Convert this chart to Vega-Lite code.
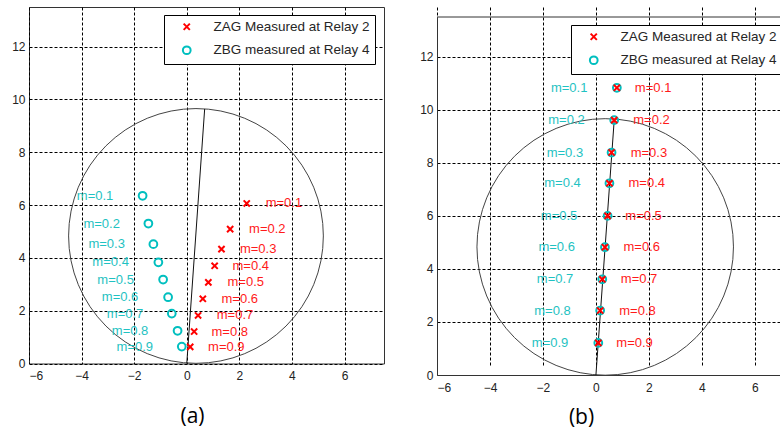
{
  "$schema": "https://vega.github.io/schema/vega-lite/v6.json",
  "background": "white",
  "padding": {"left": 11, "top": 6, "right": 0, "bottom": 2},
  "spacing": 34,
  "datasets": {
    "circle": [{"x": 0.35, "y": 4.83}],
    "lineA": [{"x": 0, "y": 0}, {"x": 0.68, "y": 9.64}],
    "lineB": [{"x": 0, "y": 0}, {"x": 0.69, "y": 9.61}],
    "pointsA": [
      {"series": "ZBG measured at Relay 4", "m": 0.1, "x": -1.68, "y": 6.35},
      {"series": "ZBG measured at Relay 4", "m": 0.2, "x": -1.46, "y": 5.30},
      {"series": "ZBG measured at Relay 4", "m": 0.3, "x": -1.27, "y": 4.52},
      {"series": "ZBG measured at Relay 4", "m": 0.4, "x": -1.08, "y": 3.83},
      {"series": "ZBG measured at Relay 4", "m": 0.5, "x": -0.90, "y": 3.18},
      {"series": "ZBG measured at Relay 4", "m": 0.6, "x": -0.71, "y": 2.51},
      {"series": "ZBG measured at Relay 4", "m": 0.7, "x": -0.57, "y": 1.89},
      {"series": "ZBG measured at Relay 4", "m": 0.8, "x": -0.35, "y": 1.24},
      {"series": "ZBG measured at Relay 4", "m": 0.9, "x": -0.19, "y": 0.64},
      {"series": "ZAG Measured at Relay 2", "m": 0.1, "x": 2.28, "y": 6.06},
      {"series": "ZAG Measured at Relay 2", "m": 0.2, "x": 1.65, "y": 5.09},
      {"series": "ZAG Measured at Relay 2", "m": 0.3, "x": 1.32, "y": 4.33},
      {"series": "ZAG Measured at Relay 2", "m": 0.4, "x": 1.06, "y": 3.70},
      {"series": "ZAG Measured at Relay 2", "m": 0.5, "x": 0.82, "y": 3.07},
      {"series": "ZAG Measured at Relay 2", "m": 0.6, "x": 0.61, "y": 2.45},
      {"series": "ZAG Measured at Relay 2", "m": 0.7, "x": 0.43, "y": 1.82},
      {"series": "ZAG Measured at Relay 2", "m": 0.8, "x": 0.28, "y": 1.21},
      {"series": "ZAG Measured at Relay 2", "m": 0.9, "x": 0.13, "y": 0.63}
    ],
    "labelsA": [
      {"series": "ZBG", "label": "m=0.1", "x": -4.18, "y": 6.35},
      {"series": "ZBG", "label": "m=0.2", "x": -3.93, "y": 5.30},
      {"series": "ZBG", "label": "m=0.3", "x": -3.74, "y": 4.52},
      {"series": "ZBG", "label": "m=0.4", "x": -3.59, "y": 3.83},
      {"series": "ZBG", "label": "m=0.5", "x": -3.40, "y": 3.18},
      {"series": "ZBG", "label": "m=0.6", "x": -3.23, "y": 2.51},
      {"series": "ZBG", "label": "m=0.7", "x": -3.04, "y": 1.89},
      {"series": "ZBG", "label": "m=0.8", "x": -2.85, "y": 1.24},
      {"series": "ZBG", "label": "m=0.9", "x": -2.67, "y": 0.64},
      {"series": "ZAG", "label": "m=0.1", "x": 3.00, "y": 6.06},
      {"series": "ZAG", "label": "m=0.2", "x": 2.37, "y": 5.09},
      {"series": "ZAG", "label": "m=0.3", "x": 2.02, "y": 4.33},
      {"series": "ZAG", "label": "m=0.4", "x": 1.74, "y": 3.70},
      {"series": "ZAG", "label": "m=0.5", "x": 1.55, "y": 3.07},
      {"series": "ZAG", "label": "m=0.6", "x": 1.32, "y": 2.45},
      {"series": "ZAG", "label": "m=0.7", "x": 1.14, "y": 1.82},
      {"series": "ZAG", "label": "m=0.8", "x": 0.94, "y": 1.21},
      {"series": "ZAG", "label": "m=0.9", "x": 0.81, "y": 0.63}
    ],
    "pointsB": [
      {"series": "ZBG measured at Relay 4", "m": 0.1, "x": 0.79, "y": 10.83},
      {"series": "ZBG measured at Relay 4", "m": 0.2, "x": 0.69, "y": 9.61},
      {"series": "ZBG measured at Relay 4", "m": 0.3, "x": 0.59, "y": 8.39},
      {"series": "ZBG measured at Relay 4", "m": 0.4, "x": 0.51, "y": 7.23},
      {"series": "ZBG measured at Relay 4", "m": 0.5, "x": 0.44, "y": 6.00},
      {"series": "ZBG measured at Relay 4", "m": 0.6, "x": 0.34, "y": 4.82},
      {"series": "ZBG measured at Relay 4", "m": 0.7, "x": 0.24, "y": 3.61},
      {"series": "ZBG measured at Relay 4", "m": 0.8, "x": 0.16, "y": 2.43},
      {"series": "ZBG measured at Relay 4", "m": 0.9, "x": 0.09, "y": 1.21},
      {"series": "ZAG Measured at Relay 2", "m": 0.1, "x": 0.79, "y": 10.83},
      {"series": "ZAG Measured at Relay 2", "m": 0.2, "x": 0.69, "y": 9.61},
      {"series": "ZAG Measured at Relay 2", "m": 0.3, "x": 0.59, "y": 8.39},
      {"series": "ZAG Measured at Relay 2", "m": 0.4, "x": 0.51, "y": 7.23},
      {"series": "ZAG Measured at Relay 2", "m": 0.5, "x": 0.44, "y": 6.00},
      {"series": "ZAG Measured at Relay 2", "m": 0.6, "x": 0.34, "y": 4.82},
      {"series": "ZAG Measured at Relay 2", "m": 0.7, "x": 0.24, "y": 3.61},
      {"series": "ZAG Measured at Relay 2", "m": 0.8, "x": 0.16, "y": 2.43},
      {"series": "ZAG Measured at Relay 2", "m": 0.9, "x": 0.09, "y": 1.21}
    ],
    "labelsB": [
      {"series": "ZBG", "label": "m=0.1", "x": -1.70, "y": 10.83},
      {"series": "ZBG", "label": "m=0.2", "x": -1.80, "y": 9.61},
      {"series": "ZBG", "label": "m=0.3", "x": -1.86, "y": 8.39},
      {"series": "ZBG", "label": "m=0.4", "x": -1.95, "y": 7.23},
      {"series": "ZBG", "label": "m=0.5", "x": -2.08, "y": 6.00},
      {"series": "ZBG", "label": "m=0.6", "x": -2.17, "y": 4.82},
      {"series": "ZBG", "label": "m=0.7", "x": -2.23, "y": 3.61},
      {"series": "ZBG", "label": "m=0.8", "x": -2.33, "y": 2.43},
      {"series": "ZBG", "label": "m=0.9", "x": -2.42, "y": 1.21},
      {"series": "ZAG", "label": "m=0.1", "x": 1.47, "y": 10.83},
      {"series": "ZAG", "label": "m=0.2", "x": 1.41, "y": 9.61},
      {"series": "ZAG", "label": "m=0.3", "x": 1.31, "y": 8.39},
      {"series": "ZAG", "label": "m=0.4", "x": 1.23, "y": 7.23},
      {"series": "ZAG", "label": "m=0.5", "x": 1.11, "y": 6.00},
      {"series": "ZAG", "label": "m=0.6", "x": 1.04, "y": 4.82},
      {"series": "ZAG", "label": "m=0.7", "x": 0.94, "y": 3.61},
      {"series": "ZAG", "label": "m=0.8", "x": 0.88, "y": 2.43},
      {"series": "ZAG", "label": "m=0.9", "x": 0.77, "y": 1.21}
    ]
  },
  "resolve": {
    "scale": {"color": "independent", "shape": "independent", "x": "independent", "y": "independent"},
    "legend": {"color": "independent", "shape": "independent"}
  },
  "hconcat": [
    {
      "width": 355,
      "height": 356.5,
      "encoding": {
        "x": {"field": "x", "type": "quantitative", "scale": {"domain": [-6, 7.5], "nice": false, "zero": false},
          "axis": {"values": [-6, -4, -2, 0, 2, 4, 6], "title": "(a)", "titleX": 163, "titleY": 53}},
        "y": {"field": "y", "type": "quantitative", "scale": {"domain": [0, 13.5], "nice": false},
          "axis": {"values": [0, 2, 4, 6, 8, 10, 12], "title": null}}
      },
      "layer": [
        {"data": {"name": "circle"}, "mark": {"type": "point", "shape": "circle", "size": 64900, "filled": false, "stroke": "#444", "strokeWidth": 1, "opacity": 1}},
        {"data": {"name": "lineA"}, "mark": {"type": "line", "color": "#111", "strokeWidth": 1}},
        {"data": {"name": "pointsA"}, "mark": {"type": "point", "filled": false, "strokeWidth": 2, "size": 60, "opacity": 1},
          "encoding": {
            "color": {"field": "series", "type": "nominal", "scale": {"domain": ["ZAG Measured at Relay 2", "ZBG measured at Relay 4"], "range": ["#FF0000", "#00BFBF"]},
              "legend": {"orient": "none", "legendX": 135, "legendY": 8, "title": null}},
            "shape": {"field": "series", "type": "nominal", "scale": {"domain": ["ZAG Measured at Relay 2", "ZBG measured at Relay 4"], "range": ["M-0.8,-0.8L0.8,0.8M-0.8,0.8L0.8,-0.8", "circle"]},
              "legend": {"orient": "none", "legendX": 135, "legendY": 8, "title": null}}
          }},
        {"data": {"name": "labelsA"}, "transform": [{"filter": "datum.series == 'ZBG'"}], "mark": {"type": "text", "align": "left", "baseline": "middle", "fontSize": 13, "color": "#1FC2C2"},
          "encoding": {"text": {"field": "label"}}},
        {"data": {"name": "labelsA"}, "transform": [{"filter": "datum.series == 'ZAG'"}], "mark": {"type": "text", "align": "left", "baseline": "middle", "fontSize": 13, "color": "#FF1A1A"},
          "encoding": {"text": {"field": "label"}}}
      ]
    },
    {
      "width": 347,
      "height": 368,
      "view": {"stroke": null},
      "encoding": {
        "x": {"field": "x", "type": "quantitative", "scale": {"domain": [-6, 7.1], "nice": false, "zero": false},
          "axis": {"values": [-6, -4, -2, 0, 2, 4, 6], "title": "(b)", "titleX": 144, "titleY": 42, "domain": true, "domainColor": "#333"}},
        "y": {"field": "y", "type": "quantitative", "scale": {"domain": [0, 13.5], "nice": false, "range": [368, 10]},
          "axis": {"values": [0, 2, 4, 6, 8, 10, 12], "title": null, "domain": true, "domainColor": "#333"}}
      },
      "layer": [
        {"data": {"values": [{"x": -6, "x2": 7.1, "y": 13.5}]}, "mark": {"type": "rule", "color": "#333", "strokeWidth": 1},
          "encoding": {"x2": {"field": "x2"}}},
        {"data": {"name": "circle"}, "mark": {"type": "point", "shape": "circle", "size": 65800, "filled": false, "stroke": "#444", "strokeWidth": 1, "opacity": 1}},
        {"data": {"name": "lineB"}, "mark": {"type": "line", "color": "#111", "strokeWidth": 1}},
        {"data": {"name": "pointsB"}, "mark": {"type": "point", "filled": false, "strokeWidth": 2, "size": 60, "opacity": 1},
          "encoding": {
            "color": {"field": "series", "type": "nominal", "scale": {"domain": ["ZAG Measured at Relay 2", "ZBG measured at Relay 4"], "range": ["#FF0000", "#00BFBF"]},
              "legend": {"orient": "none", "legendX": 134, "legendY": 18, "title": null}},
            "shape": {"field": "series", "type": "nominal", "scale": {"domain": ["ZAG Measured at Relay 2", "ZBG measured at Relay 4"], "range": ["M-0.8,-0.8L0.8,0.8M-0.8,0.8L0.8,-0.8", "circle"]},
              "legend": {"orient": "none", "legendX": 134, "legendY": 18, "title": null}}
          }},
        {"data": {"name": "labelsB"}, "transform": [{"filter": "datum.series == 'ZBG'"}], "mark": {"type": "text", "align": "left", "baseline": "middle", "fontSize": 13, "color": "#1FC2C2"},
          "encoding": {"text": {"field": "label"}}},
        {"data": {"name": "labelsB"}, "transform": [{"filter": "datum.series == 'ZAG'"}], "mark": {"type": "text", "align": "left", "baseline": "middle", "fontSize": 13, "color": "#FF1A1A"},
          "encoding": {"text": {"field": "label"}}}
      ]
    }
  ],
  "config": {
    "font": "Liberation Sans",
    "view": {"stroke": "#333", "strokeWidth": 1},
    "axis": {
      "grid": true, "gridColor": "#000", "gridDash": [3, 2], "gridWidth": 1, "gridOpacity": 1,
      "domain": false, "ticks": false,
      "labelFont": "Liberation Sans", "labelFontSize": 12, "labelColor": "#222",
      "titleFont": "Open Sans", "titleFontSize": 21, "titleFontWeight": "normal", "titleColor": "#000",
      "titleAlign": "center", "titleBaseline": "middle"
    },
    "axisX": {"labelPadding": 7},
    "axisY": {"labelPadding": 4},
    "legend": {
      "strokeColor": "#000", "fillColor": "#fff", "padding": 5,
      "labelFont": "Liberation Sans", "labelFontSize": 13.5, "labelColor": "#262626", "labelLimit": 300,
      "rowPadding": 7.5, "symbolStrokeWidth": 2, "symbolOffset": 11, "labelOffset": 20, "symbolSize": 60
    }
  }
}
